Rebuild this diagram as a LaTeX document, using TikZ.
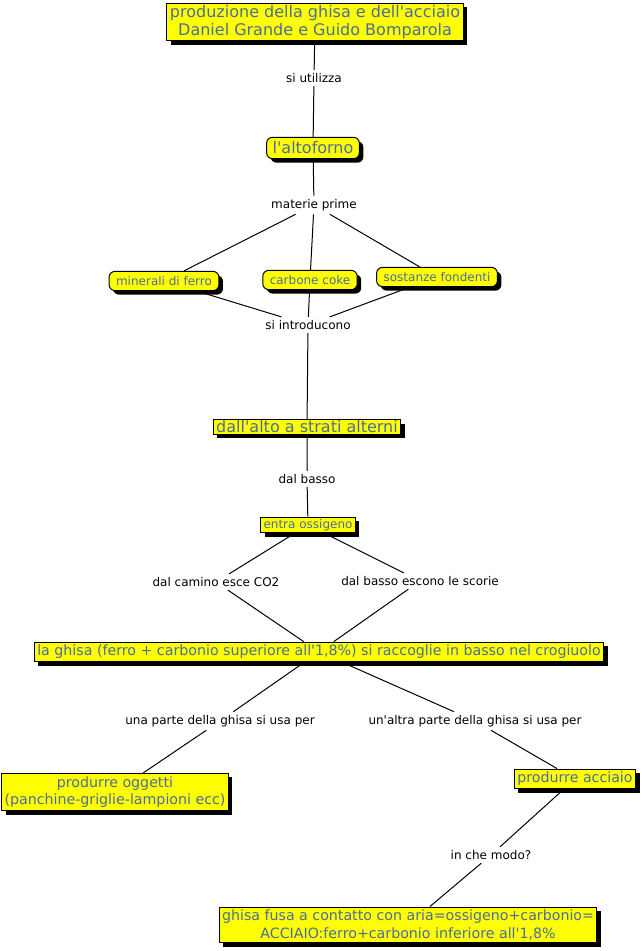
\documentclass[tikz,border=0pt]{standalone}
\usepackage{fontspec}
\setmainfont{DejaVu Sans}
\usepackage{tikz}
\usetikzlibrary{shadows}
\definecolor{boxyellow}{RGB}{255,255,0}
\definecolor{boxtext}{RGB}{76,108,160}
\newcommand{\ap}{\textquotesingle}

\tikzset{
  concept/.style={draw=black, line width=1pt, fill=boxyellow, text=boxtext, align=center,
    font=\fontsize{14.2}{17.5}\selectfont, inner xsep=3pt, inner ysep=3pt,
    drop shadow={shadow xshift=4pt, shadow yshift=-4pt, fill=black, opacity=1}},
  bigconcept/.style={concept, font=\fontsize{16}{18}\selectfont},
  smallconcept/.style={concept, font=\fontsize{12}{14}\selectfont,
    rounded corners=6pt, inner xsep=7pt, inner ysep=5pt},
  linkword/.style={font=\fontsize{12}{14}\selectfont, text=black, inner sep=3pt},
  every path/.style={line width=1pt}
}

\begin{document}
\begin{tikzpicture}[x=1pt, y=-1pt]
    \useasboundingbox (0,0) rectangle (642,951);
    % concetti
    \node[bigconcept, inner ysep=2pt] (titolo) at (315,22) {produzione della ghisa e dell\ap acciaio\\Daniel Grande e Guido Bomparola};
    \node[bigconcept, rounded corners=6pt, inner xsep=6pt, inner ysep=4.5pt] (altoforno) at (313,148) {l\ap altoforno};
    \node[smallconcept] (minerali) at (164,281) {minerali di ferro};
    \node[smallconcept] (carbone) at (310,280) {carbone coke};
    \node[smallconcept] (fondenti) at (437,277) {sostanze fondenti};
    \node[bigconcept, inner ysep=1pt] (strati) at (307,427) {dall\ap alto a strati alterni};
    \node[concept, font=\fontsize{12}{14}\selectfont, inner ysep=2pt] (ossigeno) at (308,525) {entra ossigeno};
    \node[concept] (ghisa) at (319,652) {la ghisa (ferro + carbonio superiore all\ap 1,8\%) si raccoglie in basso nel crogiuolo};
    \node[concept] (oggetti) at (115,792) {produrre oggetti\\(panchine-griglie-lampioni ecc)};
    \node[concept] (acciaio) at (575,779) {produrre acciaio};
    \node[concept] (fusa) at (408,925) {ghisa fusa a contatto con aria=ossigeno+carbonio=\\ACCIAIO:ferro+carbonio inferiore all\ap 1,8\%};
    % parole legame
    \node[linkword] (utilizza) at (314,78) {si utilizza};
    \node[linkword] (materie) at (314,205) {materie prime};
    \node[linkword] (introducono) at (308,325) {si introducono};
    \node[linkword] (basso) at (307,479) {dal basso};
    \node[linkword] (camino) at (216,582) {dal camino esce CO2};
    \node[linkword] (scorie) at (420,581) {dal basso escono le scorie};
    \node[linkword] (parte) at (220,721) {una parte della ghisa si usa per};
    \node[linkword] (altraparte) at (475,721) {un\ap altra parte della ghisa si usa per};
    \node[linkword] (modo) at (491,855) {in che modo?};
    % collegamenti
    \draw (titolo) -- (utilizza) -- (altoforno) -- (materie);
    \draw (materie) -- (minerali);
    \draw (materie) -- (carbone);
    \draw (materie) -- (fondenti);
    \draw (minerali) -- (introducono);
    \draw (carbone) -- (introducono);
    \draw (fondenti) -- (introducono);
    \draw (introducono) -- (strati) -- (basso) -- (ossigeno);
    \draw (ossigeno) -- (camino) -- (ghisa);
    \draw (ossigeno) -- (scorie) -- (ghisa);
    \draw (ghisa) -- (parte) -- (oggetti);
    \draw (ghisa) -- (altraparte) -- (acciaio);
    \draw (acciaio) -- (modo) -- (fusa);
\end{tikzpicture}
\end{document}
